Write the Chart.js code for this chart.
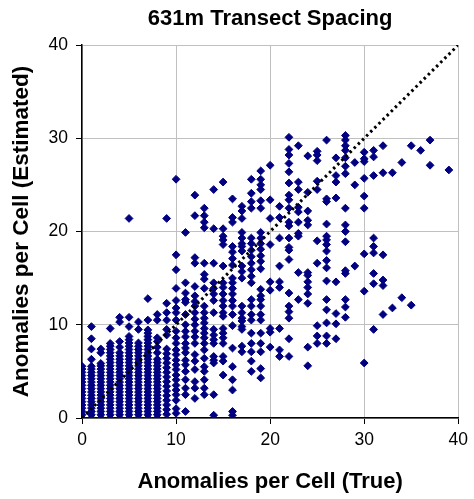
<!DOCTYPE html>
<html>
<head>
<meta charset="utf-8">
<script src="https://cdn.jsdelivr.net/npm/chart.js@4"></script>
<style>
  html, body { margin: 0; padding: 0; background: #fff; }
  #wrap { width: 474px; height: 499px; }
</style>
</head>
<body>
<div id="wrap"><canvas id="spacing"></canvas></div>
<script>
// estimated anomalies per cell, one list for each true count (0..39)
const at0 = [0, 0.35, 0.7, 1.05, 1.4, 1.75, 2.1, 2.45, 2.8, 3.15, 3.5, 3.85, 4.2, 4.55, 4.9, 5.25, 5.55];
const at1 = [0, 0.35, 0.7, 1.05, 1.4, 1.75, 2.1, 2.45, 2.8, 3.15, 3.5, 3.85, 4.2, 4.55, 4.9, 5.25, 5.55, 6.3, 7.4, 8.5, 9.8];
const at2 = [0, 0.35, 0.7, 1.05, 1.4, 1.75, 2.1, 2.45, 2.8, 3.15, 3.5, 3.85, 4.2, 4.55, 4.9, 5.25, 5.6, 5.85, 7.0, 7.4];
const at3 = [0, 0.35, 0.7, 1.05, 1.4, 1.75, 2.1, 2.45, 2.8, 3.15, 3.5, 3.85, 4.2, 4.55, 4.9, 5.25, 5.6, 5.95, 6.3, 6.65, 7.0, 7.35, 7.7, 8.0, 9.6];
const at4 = [0, 0.35, 0.7, 1.05, 1.4, 1.75, 2.1, 2.45, 2.8, 3.15, 3.5, 3.85, 4.2, 4.55, 4.9, 5.25, 5.6, 5.95, 6.3, 6.65, 7.0, 7.6, 8.2, 10.3, 10.8];
const at5 = [0, 0.35, 0.7, 1.05, 1.4, 1.75, 2.1, 2.45, 2.8, 3.15, 3.5, 3.85, 4.2, 4.55, 4.9, 5.25, 5.6, 5.95, 6.3, 6.65, 7.0, 7.35, 7.7, 8.05, 8.4, 8.75, 9.8, 10.8, 21.4];
const at6 = [0, 0.35, 0.7, 1.05, 1.4, 1.75, 2.1, 2.45, 2.8, 3.15, 3.5, 3.85, 4.2, 4.55, 4.9, 5.25, 5.6, 5.95, 6.3, 6.65, 7.0, 7.35, 7.7, 8.05, 9.5, 10.3];
const at7 = [0, 0.35, 0.7, 1.05, 1.4, 1.75, 2.1, 2.45, 2.8, 3.15, 3.5, 3.85, 4.2, 4.55, 4.9, 5.25, 5.6, 5.95, 6.3, 6.65, 7.0, 7.35, 7.7, 8.05, 8.4, 8.75, 9.1, 9.45, 10.5, 12.8];
const at8 = [0, 0.35, 0.7, 1.05, 1.4, 1.75, 2.1, 2.45, 2.8, 3.15, 3.5, 3.85, 4.2, 4.55, 4.9, 5.25, 5.6, 5.95, 6.3, 7.0, 7.6, 8.2, 8.6, 10.5, 11.1];
const at9 = [0.4, 0.9, 1.4, 1.9, 2.4, 2.9, 3.4, 3.9, 4.4, 4.9, 5.4, 5.9, 6.4, 6.9, 7.4, 8.9, 9.5, 10.5, 11.3, 12.3, 21.4];
const at10 = [0.5, 1.0, 1.9, 2.5, 3.0, 3.5, 4.1, 4.6, 5.2, 5.7, 6.2, 6.8, 7.3, 8.0, 8.6, 9.3, 10.5, 11.3, 11.8, 12.6, 13.9, 15.9, 17.5, 25.6];
const at11 = [0.7, 2.5, 3.2, 4.1, 5.0, 5.7, 6.2, 7.0, 7.5, 8.0, 8.7, 9.3, 10.0, 11.1, 12.4, 12.7, 13.4, 14.5, 19.9];
const at12 = [2.1, 3.2, 3.9, 5.2, 6.1, 6.8, 8.0, 8.7, 9.3, 10.0, 10.6, 11.3, 12.0, 12.5, 13.1, 14.1, 16.6, 17.2, 21.7, 23.9];
const at13 = [2.5, 3.2, 4.1, 5.0, 5.5, 6.4, 7.3, 8.0, 8.6, 9.1, 9.6, 10.2, 10.7, 11.3, 12.0, 13.9, 14.9, 15.4, 16.6, 20.4, 21.0, 21.7, 22.5];
const at14 = [0.3, 2.5, 5.9, 6.2, 6.6, 8.0, 8.4, 8.9, 9.5, 11.3, 12.6, 13.3, 13.9, 14.5, 16.6, 20.3, 24.5];
const at15 = [4.6, 6.1, 6.6, 8.0, 8.6, 9.1, 9.6, 10.9, 11.3, 12.0, 12.6, 13.3, 14.0, 14.5, 16.3, 18.6, 19.1, 19.5, 20.3, 25.3];
const at16 = [0.3, 0.7, 3.0, 4.1, 5.5, 7.5, 9.9, 11.1, 12.0, 12.6, 13.3, 13.9, 14.5, 15.0, 16.4, 17.1, 17.8, 18.4, 21.0, 21.5, 23.5];
const at17 = [7.1, 7.7, 9.5, 9.8, 10.4, 10.7, 11.3, 12.0, 15.0, 15.7, 16.3, 17.9, 18.4, 18.7, 19.3, 19.9, 21.4, 22.2, 22.7];
const at18 = [5.0, 6.1, 7.1, 8.0, 9.1, 10.5, 11.1, 12.0, 12.7, 14.5, 15.2, 15.9, 16.6, 17.3, 18.0, 18.7, 19.3, 22.5, 23.2, 24.1, 25.6];
const at19 = [4.3, 5.3, 7.1, 8.0, 9.1, 10.5, 11.1, 12.0, 12.7, 13.1, 13.8, 16.0, 16.8, 17.4, 18.1, 18.7, 19.3, 19.9, 22.5, 23.3, 24.5, 25.0, 25.6, 26.5];
const at20 = [7.6, 9.2, 9.6, 13.7, 14.6, 18.6, 21.4, 23.4, 27.1];
const at21 = [6.6, 7.3, 9.6, 14.0, 14.6, 16.3, 19.3, 21.5, 22.7];
const at22 = [6.6, 8.5, 10.7, 11.4, 12.0, 13.4, 17.0, 18.0, 18.3, 19.3, 20.6, 21.0, 22.5, 23.4, 23.9, 25.2, 26.4, 27.3, 28.2, 28.8, 30.1];
const at23 = [12.7, 15.6, 19.5, 19.8, 21.0, 22.1, 22.6, 24.5, 25.3, 29.2];
const at24 = [5.6, 7.6, 12.3, 13.3, 14.0, 14.6, 15.3, 15.6, 20.7, 21.2, 22.2, 24.2, 28.1];
const at25 = [8.0, 8.8, 9.9, 16.6, 19.0, 24.5, 25.4, 27.6, 28.2, 28.6];
const at26 = [8.0, 8.8, 10.2, 11.6, 12.7, 14.7, 16.1, 16.9, 17.9, 18.6, 19.1, 19.5, 20.8, 23.2, 23.5, 29.8];
const at27 = [8.5, 10.1, 11.2, 14.6, 23.6, 25.3, 26.0, 27.9];
const at28 = [10.8, 11.9, 12.7, 15.5, 15.8, 18.9, 20.0, 20.7, 22.5, 26.2, 27.0, 27.9, 28.7, 29.2, 29.8, 30.3];
const at29 = [16.3, 25.0, 27.4];
const at30 = [5.9, 13.6, 17.6, 22.5, 23.8, 25.7, 27.5, 27.8, 28.5];
const at31 = [9.5, 14.4, 15.5, 17.7, 18.4, 19.3, 26.0, 28.0, 28.7];
const at32 = [11.1, 14.2, 14.8, 17.5, 26.3, 29.2];
const at33 = [11.8, 26.3];
const at34 = [12.9, 27.4];
const at35 = [12.1, 29.2];
const at36 = [28.7];
const at37 = [27.1, 29.8];
const at38 = [];
const at39 = [26.6];

const estimates = [at0, at1, at2, at3, at4, at5, at6, at7, at8, at9,
  at10, at11, at12, at13, at14, at15, at16, at17, at18, at19,
  at20, at21, at22, at23, at24, at25, at26, at27, at28, at29,
  at30, at31, at32, at33, at34, at35, at36, at37, at38, at39];

// 1:1 reference line
const oneToOne = [0, 40];
const axisMin = 0;
const axisMax = 40;
const axisStep = 10;

const points = [];
estimates.forEach((list, trueCount) => {
  list.forEach(est => points.push({ x: trueCount, y: est }));
});

Chart.defaults.font.family = "'Liberation Sans', Arial, sans-serif";
Chart.defaults.color = '#000';

const tickFont = { size: 17.5 };
const titleFont = { size: 22, weight: 'bold' };

function axis(titleText, fit) {
  return {
    type: 'linear',
    min: axisMin,
    max: axisMax,
    ticks: { stepSize: axisStep, font: tickFont, color: '#000', padding: 6 },
    grid: { color: '#c0c0c0', lineWidth: 1, tickColor: '#000', tickLength: 6 },
    border: { display: true, color: '#000', width: 1.5 },
    title: { display: true, text: titleText, font: titleFont, color: '#000' },
    afterFit: fit
  };
}

const xAxis = axis('Anomalies per Cell (True)', s => { s.height = 81; });
xAxis.title.padding = { top: 0, bottom: 4 };
const yAxis = axis('Anomalies per Cell (Estimated)', s => { s.width = 82; });
yAxis.title.font = { size: 22.5, weight: 'bold' };
yAxis.title.padding = { top: 8, bottom: 0 };
yAxis.ticks.padding = 8;

new Chart(document.getElementById('spacing'), {
  type: 'scatter',
  data: {
    datasets: [
      {
        type: 'line',
        data: oneToOne.map(v => ({ x: v, y: v })),
        borderColor: '#000',
        borderWidth: 3,
        borderDash: [2.5, 3.3],
        pointRadius: 0,
        fill: false
      },
      {
        data: points,
        pointStyle: 'rectRot',
        pointRadius: 3.9,
        pointHoverRadius: 3.9,
        backgroundColor: '#000080',
        borderColor: '#000080',
        borderWidth: 1
      }
    ]
  },
  options: {
    responsive: true,
    maintainAspectRatio: false,
    animation: false,
    layout: { padding: { left: 0, right: 12, top: 0, bottom: 0 } },
    plugins: {
      legend: { display: false },
      tooltip: { enabled: false },
      title: {
        display: true,
        text: '631m Transect Spacing',
        font: titleFont,
        color: '#000',
        fullSize: false,
        padding: { top: 6, bottom: 12.6 }
      }
    },
    scales: { x: xAxis, y: yAxis }
  }
});
</script>
</body>
</html>
